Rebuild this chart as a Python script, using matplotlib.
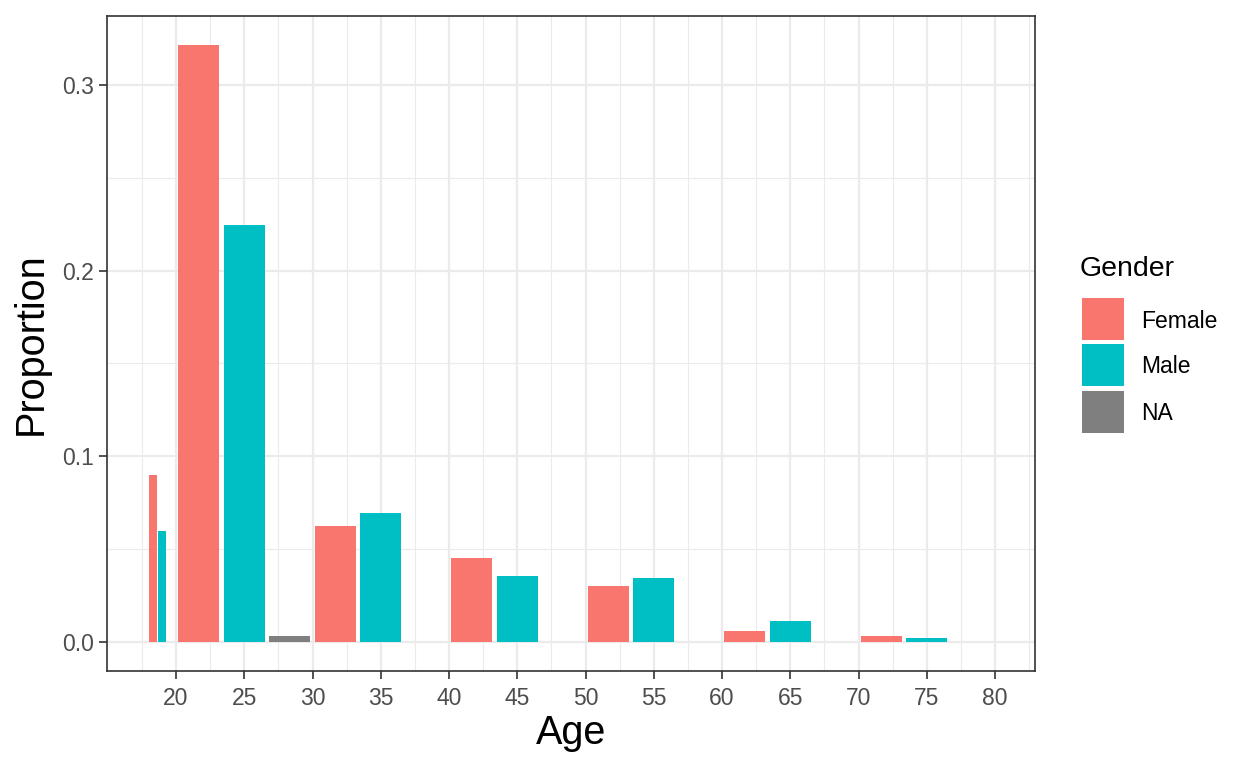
import matplotlib
matplotlib.use("Agg")
import matplotlib.pyplot as plt
import numpy as np
from matplotlib.patches import Rectangle

plt.rcParams["font.family"] = ["Liberation Sans", "DejaVu Sans"]

# age bins and proportion per gender in each bin
bin_edges = [18, 20, 30, 40, 50, 60, 70, 80]
genders = ["Female", "Male", "NA"]
female = [0.0898, 0.3215, 0.0624, 0.0452, 0.0301, 0.0059, 0.0032]
male = [0.0597, 0.2247, 0.0694, 0.0355, 0.0344, 0.0113, 0.0022]
na = [0.0, 0.0032, 0.0, 0.0, 0.0, 0.0, 0.0]
colors = ["#F8766D", "#00BFC4", "#7F7F7F"]

W, H, DPI = 1248, 768, 100
fig = plt.figure(figsize=(W / DPI, H / DPI), dpi=DPI)
# panel box in pixels: left 107, right 1035, top 16, bottom 671
ax = fig.add_axes([107 / W, 1 - 671 / H, (1035 - 107) / W, (671 - 16) / H])

series = [female, male, na]
n = len(genders)
pad = 0.1
xmins, xmaxs = [], []
for g, vals in enumerate(series):
    for i, v in enumerate(vals):
        lo, hi = bin_edges[i], bin_edges[i + 1]
        slot = (hi - lo) / n
        width = slot * (1 - pad)
        center = lo + slot * (g + 0.5)
        xmins.append(center - width / 2)
        xmaxs.append(center + width / 2)
        if v > 0:
            ax.bar(center, v, width=width, color=colors[g], linewidth=0, zorder=3)

x0, x1 = min(xmins), max(xmaxs)
ex = (x1 - x0) * 0.05
ax.set_xlim(x0 - ex, x1 + ex)
ymax = max(female + male + na)
ax.set_ylim(-ymax * 0.048, ymax * 1.048)

ax.set_xticks(np.arange(20, 81, 5))
ax.set_xticks(np.arange(17.5, 83, 5), minor=True)
ax.set_yticks([0.0, 0.1, 0.2, 0.3])
ax.set_yticklabels(["0.0", "0.1", "0.2", "0.3"])
ax.set_yticks([0.05, 0.15, 0.25], minor=True)

ax.grid(which="major", color="#EBEBEB", linewidth=1.6, zorder=0)
ax.grid(which="minor", color="#EBEBEB", linewidth=0.8, zorder=0)
ax.set_axisbelow(True)

for s in ax.spines.values():
    s.set_color("#333333")
    s.set_linewidth(1.2)

ax.tick_params(which="major", length=5.5, width=1.2, color="#333333",
               labelcolor="#4D4D4D", labelsize=16.5)
ax.tick_params(axis="x", which="major", pad=6)
ax.tick_params(axis="y", which="major", pad=4)
ax.tick_params(which="minor", length=0)

ax.set_xlabel("Age", fontsize=28.5, va="center")
ax.xaxis.set_label_coords(0.5, (671 - 733) / 655)
ax.set_ylabel("Proportion", fontsize=28.5, va="center")
ax.yaxis.set_label_coords((31 - 107) / 928, 0.5)

# legend
fig.text(1080 / W, 1 - 269 / H, "Gender", fontsize=20.5, va="center", ha="left")
key_tops = [298, 344, 391]
for g, top in enumerate(key_tops):
    fig.add_artist(Rectangle((1082 / W, 1 - (top + 42) / H), 42 / W, 42 / H,
                             transform=fig.transFigure, color=colors[g], linewidth=0))
    fig.text(1141 / W, 1 - (top + 23) / H, genders[g], fontsize=16.5,
             va="center", ha="left")

fig.savefig("out.png", dpi=DPI)
